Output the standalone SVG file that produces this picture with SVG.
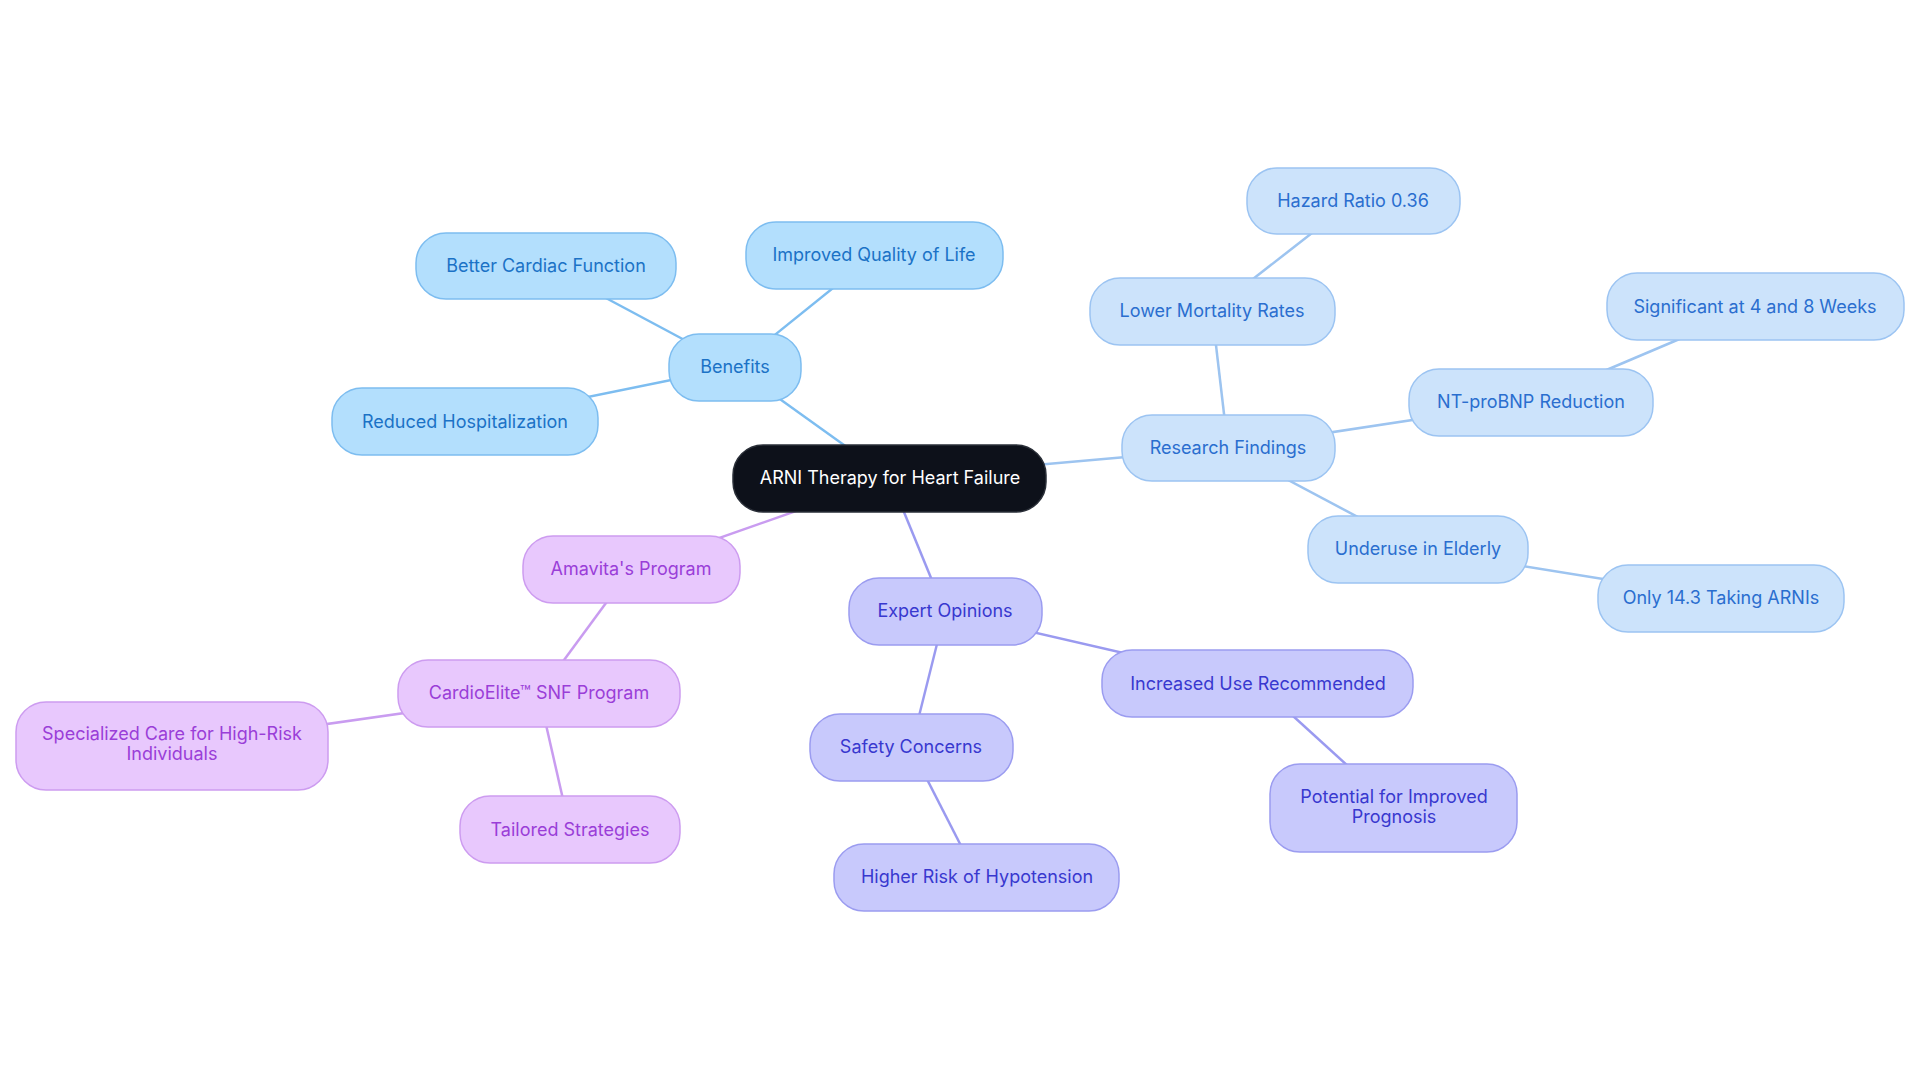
<svg xmlns="http://www.w3.org/2000/svg" width="1920" height="1083" viewBox="0 0 1920 1083">
<style>
text{font-family:Inter,"Noto Sans","Liberation Sans",sans-serif;font-size:18px;text-anchor:middle}
.c line{stroke-width:2.5;fill:none}
.lb{stroke:#7dbdf0}.lr{stroke:#9dc4f0}.le{stroke:#9a9af0}.la{stroke:#c99cf0}
.nb rect{fill:#b3dffd;stroke:#7dbdf0;stroke-width:1.5}.nb text{fill:#1b72c6}
.nr rect{fill:#cce3fb;stroke:#9cc4f2;stroke-width:1.5}.nr text{fill:#2a6ecf}
.ne rect{fill:#c8c9fc;stroke:#9b9cf0;stroke-width:1.5}.ne text{fill:#3838cf}
.na rect{fill:#e8c8fd;stroke:#cd9cf0;stroke-width:1.5}.na text{fill:#9a3ed8}
</style>
<rect width="1920" height="1083" fill="#ffffff"/>
<g id="connectors" class="c">
<line class="lb" x1="890" y1="478" x2="735" y2="367"/>
<line class="lb" x1="735" y1="367" x2="546" y2="266"/>
<line class="lb" x1="735" y1="367" x2="874" y2="255"/>
<line class="lb" x1="735" y1="367" x2="465" y2="422"/>
<line class="lr" x1="890" y1="478" x2="1228" y2="448"/>
<line class="lr" x1="1228" y1="448" x2="1212" y2="311"/>
<line class="lr" x1="1212" y1="311" x2="1353" y2="201"/>
<line class="lr" x1="1228" y1="448" x2="1531" y2="402"/>
<line class="lr" x1="1531" y1="402" x2="1755" y2="307"/>
<line class="lr" x1="1228" y1="448" x2="1418" y2="549"/>
<line class="lr" x1="1418" y1="549" x2="1721" y2="598"/>
<line class="le" x1="890" y1="478" x2="945" y2="612"/>
<line class="le" x1="945" y1="612" x2="1258" y2="684"/>
<line class="le" x1="1258" y1="684" x2="1394" y2="808"/>
<line class="le" x1="945" y1="612" x2="911" y2="748"/>
<line class="le" x1="911" y1="748" x2="977" y2="877"/>
<line class="la" x1="890" y1="478" x2="631" y2="569"/>
<line class="la" x1="631" y1="569" x2="539" y2="694"/>
<line class="la" x1="539" y1="694" x2="172" y2="746"/>
<line class="la" x1="539" y1="694" x2="570" y2="830"/>
</g>
<g id="n-center"><rect x="733" y="445" width="313" height="67" rx="30" fill="#0d111a" stroke="#2a2f38" stroke-width="1.5"/><text x="890" y="484" fill="#ffffff">ARNI Therapy for Heart Failure</text></g>
<g id="n-benefits" class="nb"><rect x="669" y="334" width="132" height="67" rx="30"/><text x="735" y="373">Benefits</text></g>
<g id="n-cardiac" class="nb"><rect x="416" y="233" width="260" height="66" rx="30"/><text x="546" y="272">Better Cardiac Function</text></g>
<g id="n-quality" class="nb"><rect x="746" y="222" width="257" height="67" rx="30"/><text x="874" y="261">Improved Quality of Life</text></g>
<g id="n-hosp" class="nb"><rect x="332" y="388" width="266" height="67" rx="30"/><text x="465" y="428">Reduced Hospitalization</text></g>
<g id="n-research" class="nr"><rect x="1122" y="415" width="213" height="66" rx="30"/><text x="1228" y="454">Research Findings</text></g>
<g id="n-mortality" class="nr"><rect x="1090" y="278" width="245" height="67" rx="30"/><text x="1212" y="317">Lower Mortality Rates</text></g>
<g id="n-hazard" class="nr"><rect x="1247" y="168" width="213" height="66" rx="30"/><text x="1353" y="207">Hazard Ratio 0.36</text></g>
<g id="n-ntpro" class="nr"><rect x="1409" y="369" width="244" height="67" rx="30"/><text x="1531" y="408">NT-proBNP Reduction</text></g>
<g id="n-signif" class="nr"><rect x="1607" y="273" width="297" height="67" rx="30"/><text x="1755" y="313">Significant at 4 and 8 Weeks</text></g>
<g id="n-underuse" class="nr"><rect x="1308" y="516" width="220" height="67" rx="30"/><text x="1418" y="555">Underuse in Elderly</text></g>
<g id="n-only" class="nr"><rect x="1598" y="565" width="246" height="67" rx="30"/><text x="1721" y="604">Only 14.3 Taking ARNIs</text></g>
<g id="n-expert" class="ne"><rect x="849" y="578" width="193" height="67" rx="30"/><text x="945" y="617">Expert Opinions</text></g>
<g id="n-increased" class="ne"><rect x="1102" y="650" width="311" height="67" rx="30"/><text x="1258" y="690">Increased Use Recommended</text></g>
<g id="n-potential" class="ne"><rect x="1270" y="764" width="247" height="88" rx="30"/><text x="1394" y="803">Potential for Improved</text><text x="1394" y="823">Prognosis</text></g>
<g id="n-safety" class="ne"><rect x="810" y="714" width="203" height="67" rx="30"/><text x="911" y="753">Safety Concerns</text></g>
<g id="n-hypo" class="ne"><rect x="834" y="844" width="285" height="67" rx="30"/><text x="977" y="883">Higher Risk of Hypotension</text></g>
<g id="n-amavita" class="na"><rect x="523" y="536" width="217" height="67" rx="30"/><text x="631" y="575">Amavita's Program</text></g>
<g id="n-cardioelite" class="na"><rect x="398" y="660" width="282" height="67" rx="30"/><text x="539" y="699">CardioElite™ SNF Program</text></g>
<g id="n-special" class="na"><rect x="16" y="702" width="312" height="88" rx="30"/><text x="172" y="740">Specialized Care for High-Risk</text><text x="172" y="760">Individuals</text></g>
<g id="n-tailored" class="na"><rect x="460" y="796" width="220" height="67" rx="30"/><text x="570" y="836">Tailored Strategies</text></g>
</svg>
